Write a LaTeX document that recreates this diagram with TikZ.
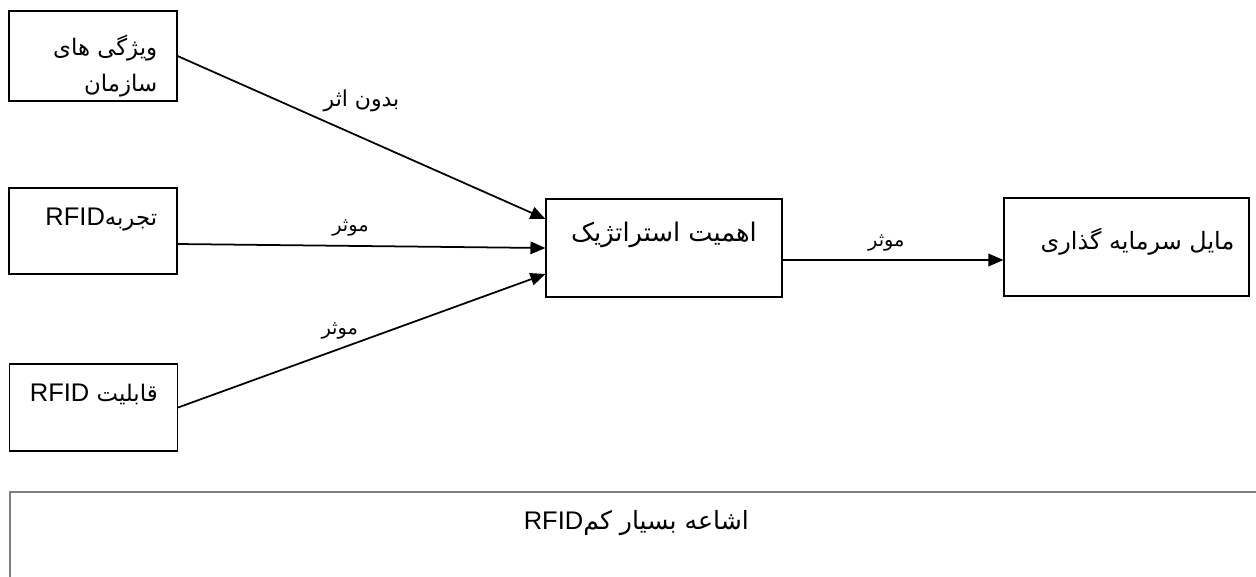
\documentclass[tikz,border=0pt]{standalone}
\usepackage{fontspec}
\TeXXeTstate=1
\newfontfamily\farsi[Script=Arabic]{DejaVu Sans}
\newfontfamily\latinf{Liberation Sans}
\usetikzlibrary{arrows.meta}
\newcommand{\RFID}{\beginL{\latinf\fontsize{14.5}{18}\selectfont RFID}\endL}

\begin{document}
\begin{tikzpicture}[x=0.02cm,y=-0.02cm,>={Triangle[length=0.3cm,width=0.25cm]},
 every node/.style={inner sep=0pt},
 factor/.style={draw,line width=0.65pt,minimum width=3.36cm},
 bigbox/.style={draw,line width=0.65pt,minimum height=1.96cm},
 boxtext/.style={font=\farsi\fontsize{13}{21}\selectfont},
 effect/.style={font=\farsi\fontsize{11}{13}\selectfont},
 link/.style={->,line width=1pt}]
\useasboundingbox (0,0) rectangle (1256,576);
\node[factor,minimum height=1.8cm,label={[boxtext,align=right,anchor=east,xshift=-0.4cm,yshift=-0.2cm]east:\beginR ویژگی های\endR\\\beginR سازمان\endR}] (org) at (93,56) {};
\node[factor,minimum height=1.72cm,label={[boxtext,anchor=east,xshift=-0.4cm,yshift=-0.64cm]north east:\beginR تجربه\RFID\endR}] (exp) at (93,231) {};
\node[factor,minimum height=1.74cm,label={[boxtext,anchor=east,xshift=-0.4cm,yshift=-0.62cm]north east:\beginR قابلیت \RFID\endR}] (cap) at (93.5,407.5) {};
\node[bigbox,minimum width=4.72cm,label={[font=\farsi\fontsize{14.6}{18}\selectfont,yshift=0.26cm]center:\beginR اهمیت استراتژیک\endR}] (imp) at (664,248) {};
\node[bigbox,minimum width=4.9cm,label={[font=\farsi\fontsize{13.6}{18}\selectfont,xshift=0.22cm,yshift=0.1cm]center:\beginR مایل سرمایه گذاری\endR}] (inv) at (1126.5,247) {};
\node[draw=gray,line width=1.1pt,anchor=north west,minimum width=25.06cm,minimum height=2.2cm,
 label={[font=\farsi\fontsize{14.3}{18}\selectfont,anchor=center,yshift=-0.64cm]north:\beginR اشاعه بسیار کم\RFID\endR}] (spread) at (9,491) {};
\draw[link] (org.east) -- ([yshift=0.58cm]imp.west) node[effect,font=\farsi\fontsize{12.5}{14}\selectfont,midway,above=0.5cm] {\beginR بدون اثر\endR};
\draw[link] ([yshift=-0.26cm]exp.east) -- (imp.west) node[effect,pos=0.47,above=0.18cm] {\beginR موثر\endR};
\draw[link] (cap.east) -- ([yshift=-0.52cm]imp.west) node[effect,pos=0.44,above=0.18cm] {\beginR موثر\endR};
\draw[link] ([yshift=-0.24cm]imp.east) -- ([yshift=-0.26cm]inv.west) node[effect,pos=0.47,above=0.16cm] {\beginR موثر\endR};
\end{tikzpicture}
\end{document}
